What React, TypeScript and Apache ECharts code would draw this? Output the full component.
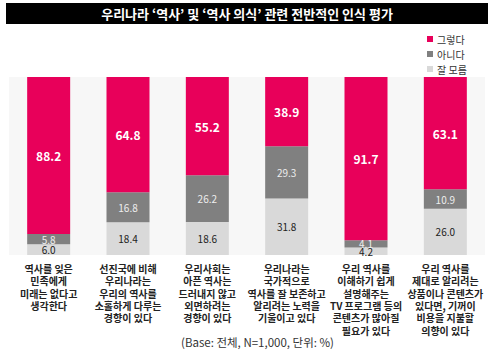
import React, { useEffect, useRef } from "react";
import * as echarts from "echarts";

const categories = [
  "역사를 잊은\n민족에게\n미래는 없다고\n생각한다",
  "선진국에 비해\n우리나라는\n우리의 역사를\n소홀하게 다루는\n경향이 있다",
  "우리사회는\n아픈 역사는\n드러내지 않고\n외면하려는\n경향이 있다",
  "우리나라는\n국가적으로\n역사를 잘 보존하고\n알리려는 노력을\n기울이고 있다",
  "우리 역사를\n이해하기 쉽게\n설명해주는\nTV 프로그램 등의\n콘텐츠가 많아질\n필요가 있다",
  "우리 역사를\n제대로 알리려는\n상품이나 콘텐츠가\n있다면, 기꺼이\n비용을 지불할\n의향이 있다",
];
const yesValues = [88.2, 64.8, 55.2, 38.9, 91.7, 63.1];
const noValues = [5.8, 16.8, 26.2, 29.3, 4.1, 10.9];
const dkValues = [6.0, 18.4, 18.6, 31.8, 4.2, 26.0];
const seriesNames = ["그렇다", "아니다", "잘 모름"];
const colors = ["#e8005a", "#808080", "#d9d9d9"];
const title = "우리나라 ‘역사’ 및 ‘역사 의식’ 관련 전반적인 인식 평가";
const footnote = "(Base: 전체, N=1,000, 단위: %)";

const FONT = "'Noto Sans CJK KR', 'Noto Sans', sans-serif";

export default function App() {
  const ref = useRef<HTMLDivElement>(null);
  useEffect(() => {
    if (!ref.current) return;
    const chart = echarts.init(ref.current, null, { renderer: "svg" });
    const fmt = (p: any) => Number(p.value).toFixed(1);
    chart.setOption({
      animation: false,
      textStyle: { fontFamily: FONT },
      graphic: [
        { type: "rect", shape: { x: 6, y: 3, width: 482, height: 21 }, style: { fill: "#000" } },
        {
          type: "text",
          x: 247,
          y: 13.5,
          style: {
            text: title,
            fill: "#fff",
            font: `bold 13px ${FONT}`,
            textAlign: "center",
            textVerticalAlign: "middle",
          },
        },
        {
          type: "text",
          x: 181,
          y: 342,
          style: {
            text: footnote,
            fill: "#333",
            font: `11.5px ${FONT}`,
            textAlign: "left",
            textVerticalAlign: "middle",
          },
        },
      ],
      legend: {
        orient: "vertical",
        left: 422,
        top: 29,
        itemWidth: 6,
        itemHeight: 6,
        itemGap: 5,
        icon: "rect",
        textStyle: { fontSize: 10, color: "#333", fontFamily: FONT, padding: [0, 0, 0, -1] },
        data: seriesNames,
      },
      grid: {
        left: 9,
        right: 9,
        top: 77,
        height: 178,
        show: true,
        backgroundColor: "#f7f7f7",
        borderWidth: 0,
      },
      xAxis: {
        type: "category",
        data: categories,
        axisLine: { show: false },
        axisTick: { show: false },
        axisLabel: {
          interval: 0,
          margin: 7,
          fontSize: 10,
          fontWeight: "bold",
          lineHeight: 12.4,
          color: "#222",
          fontFamily: FONT,
        },
      },
      yAxis: {
        type: "value",
        min: 0,
        max: 100,
        show: false,
        splitLine: { show: false },
      },
      series: [
        {
          name: seriesNames[2],
          type: "bar",
          stack: "all",
          data: dkValues,
          barWidth: 43,
          itemStyle: { color: colors[2] },
          label: { show: true, position: "inside", formatter: fmt, fontSize: 10, color: "#222", fontFamily: FONT },
        },
        {
          name: seriesNames[1],
          type: "bar",
          stack: "all",
          data: noValues,
          barWidth: 43,
          itemStyle: { color: colors[1] },
          label: { show: true, position: "inside", formatter: fmt, fontSize: 10, color: "#eeeeee", fontFamily: FONT },
        },
        {
          name: seriesNames[0],
          type: "bar",
          stack: "all",
          data: yesValues,
          barWidth: 43,
          itemStyle: { color: colors[0] },
          label: { show: true, position: "inside", formatter: fmt, fontSize: 12, fontWeight: "bold", color: "#fff", fontFamily: FONT },
        },
      ],
    });
    return () => chart.dispose();
  }, []);
  return <div ref={ref} style={{ width: 494, height: 355, position: "absolute", left: 0, top: 0 }} />;
}
